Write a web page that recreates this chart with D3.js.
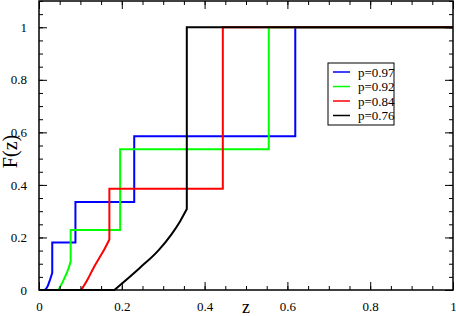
<!DOCTYPE html>
<html>
<head>
<meta charset="utf-8">
<script src="https://cdn.jsdelivr.net/npm/d3@7"></script>
<style>
  body { margin: 0; background: #fff; }
  svg { display: block; }
  svg text { font-family: "Liberation Serif", "Times New Roman", Times, "DejaVu Serif", serif; }
</style>
</head>
<body>
<div id="chart"></div>
<script>
const labels = ["p=0.97", "p=0.92", "p=0.84", "p=0.76"];
const colors = ["#0000ff", "#00ff00", "#ff0000", "#000000"];

// smooth rising part of each curve
const zCurve97 = [0.0145, 0.021, 0.0266, 0.030, 0.032];
const fCurve97 = [0, 0.015, 0.039, 0.055, 0.065];
const zCurve92 = [0.0467, 0.057, 0.067, 0.072, 0.0765];
const fCurve92 = [0, 0.03, 0.065, 0.085, 0.109];
const zCurve84 = [0.102, 0.118, 0.131, 0.145, 0.158, 0.170];
const fCurve84 = [0, 0.042, 0.082, 0.12, 0.155, 0.192];
const zCurve76 = [0.182, 0.244, 0.288, 0.320, 0.341, 0.357];
const fCurve76 = [0, 0.085, 0.150, 0.212, 0.262, 0.308];

// step part of each curve (corners)
const zStep97 = [0.032, 0.032, 0.088, 0.088, 0.230, 0.230, 0.619, 0.619, 1];
const fStep97 = [0.065, 0.181, 0.181, 0.335, 0.335, 0.585, 0.585, 1, 1];
const zStep92 = [0.0765, 0.0765, 0.196, 0.196, 0.555, 0.555, 1];
const fStep92 = [0.109, 0.228, 0.228, 0.536, 0.536, 1, 1];
const zStep84 = [0.170, 0.170, 0.444, 0.444, 1];
const fStep84 = [0.192, 0.385, 0.385, 1, 1];
const zStep76 = [0.357, 0.357, 1];
const fStep76 = [0.308, 1, 1];

const xTicks = [0, 0.2, 0.4, 0.6, 0.8, 1];
const yTicks = [0, 0.2, 0.4, 0.6, 0.8, 1];

const width = 456, height = 316;
const marginLeft = 39, marginRight = 3, marginTop = 1, marginBottom = 26;

const zip = (a, b) => a.map((d, j) => [d, b[j]]);
const data = [
  [zCurve97, fCurve97, zStep97, fStep97],
  [zCurve92, fCurve92, zStep92, fStep92],
  [zCurve84, fCurve84, zStep84, fStep84],
  [zCurve76, fCurve76, zStep76, fStep76]
].map(([zc, fc, zs, fs], i) => ({
  label: labels[i],
  color: colors[i],
  flat: [[0, 0], [zc[0], fc[0]]],
  curve: zip(zc, fc),
  step: zip(zs, fs)
}));

const x = d3.scaleLinear().domain([0, 1]).range([marginLeft, width - marginRight]);
const y = d3.scaleLinear().domain([0, 1.1]).range([height - marginBottom, marginTop]);

const svg = d3.select("#chart").append("svg")
  .attr("width", width)
  .attr("height", height);

const minorX = d3.range(0, 1.0001, 0.05);
const minorY = d3.range(0, 1.1001, 0.05);

// data lines: flat start, smooth rise, then the steps, as one path
const smooth = d3.line().x(d => x(d[0])).y(d => y(d[1])).curve(d3.curveMonotoneX);
const straight = d3.line().x(d => x(d[0])).y(d => y(d[1]));
const cont = s => s.replace(/^M/, "L");
svg.append("g")
  .attr("fill", "none")
  .attr("stroke-width", 2)
  .attr("stroke-linejoin", "miter")
  .selectAll("path")
  .data(data)
  .join("path")
  .attr("stroke", d => d.color)
  .attr("d", d => straight(d.flat) + cont(smooth(d.curve)) + cont(straight(d.step)));

// axes with inward ticks
const axisStyle = g => {
  g.attr("font-family", null);
  g.select(".domain").remove();
  g.selectAll("line").attr("stroke", "#000").attr("stroke-width", 1);
  g.selectAll("text").attr("font-size", 13).attr("fill", "#000");
};

svg.append("g")
  .attr("transform", `translate(0,${height - marginBottom})`)
  .call(d3.axisBottom(x).tickValues(minorX).tickSize(-4).tickFormat(""))
  .call(axisStyle);
svg.append("g")
  .attr("transform", `translate(0,${height - marginBottom})`)
  .call(d3.axisBottom(x).tickValues(xTicks).tickSize(-8).tickPadding(12).tickFormat(d3.format("")))
  .call(axisStyle);
svg.append("g")
  .attr("transform", `translate(0,${marginTop})`)
  .call(d3.axisTop(x).tickValues(minorX).tickSize(-4).tickFormat(""))
  .call(axisStyle);
svg.append("g")
  .attr("transform", `translate(0,${marginTop})`)
  .call(d3.axisTop(x).tickValues(xTicks).tickSize(-8).tickFormat(""))
  .call(axisStyle);

svg.append("g")
  .attr("transform", `translate(${marginLeft},0)`)
  .call(d3.axisLeft(y).tickValues(minorY).tickSize(-4).tickFormat(""))
  .call(axisStyle);
svg.append("g")
  .attr("transform", `translate(${marginLeft},0)`)
  .call(d3.axisLeft(y).tickValues(yTicks).tickSize(-8).tickPadding(12).tickFormat(d3.format("")))
  .call(axisStyle);
svg.append("g")
  .attr("transform", `translate(${width - marginRight},0)`)
  .call(d3.axisRight(y).tickValues(minorY).tickSize(-4).tickFormat(""))
  .call(axisStyle);
svg.append("g")
  .attr("transform", `translate(${width - marginRight},0)`)
  .call(d3.axisRight(y).tickValues(yTicks).tickSize(-8).tickFormat(""))
  .call(axisStyle);

// frame
svg.append("rect")
  .attr("x", x(0)).attr("y", y(1.1))
  .attr("width", x(1) - x(0)).attr("height", y(0) - y(1.1))
  .attr("fill", "none").attr("stroke", "#000").attr("stroke-width", 1.5);

// axis titles
svg.append("text")
  .attr("x", (x(0) + x(1)) / 2).attr("y", height - 3)
  .attr("text-anchor", "middle").attr("font-size", 18)
  .text("z");
svg.append("text")
  .attr("transform", `translate(17,${(y(0) + y(1.1)) / 2 + 6}) rotate(-90)`)
  .attr("text-anchor", "middle").attr("font-size", 20)
  .text("F(z)");

// legend
const legend = svg.append("g").attr("transform", "translate(328,63)");
legend.append("rect")
  .attr("width", 66).attr("height", 62)
  .attr("fill", "#fff").attr("stroke", "#000").attr("stroke-width", 1);
const rows = legend.selectAll("g.row").data(data).join("g")
  .attr("class", "row")
  .attr("transform", (d, i) => `translate(0,${9 + i * 14.5})`);
rows.append("line")
  .attr("x1", 5).attr("x2", 22)
  .attr("stroke", d => d.color).attr("stroke-width", 1.5);
rows.append("text")
  .attr("x", 30).attr("y", 4.5)
  .attr("font-size", 13)
  .text(d => d.label);
</script>
</body>
</html>
